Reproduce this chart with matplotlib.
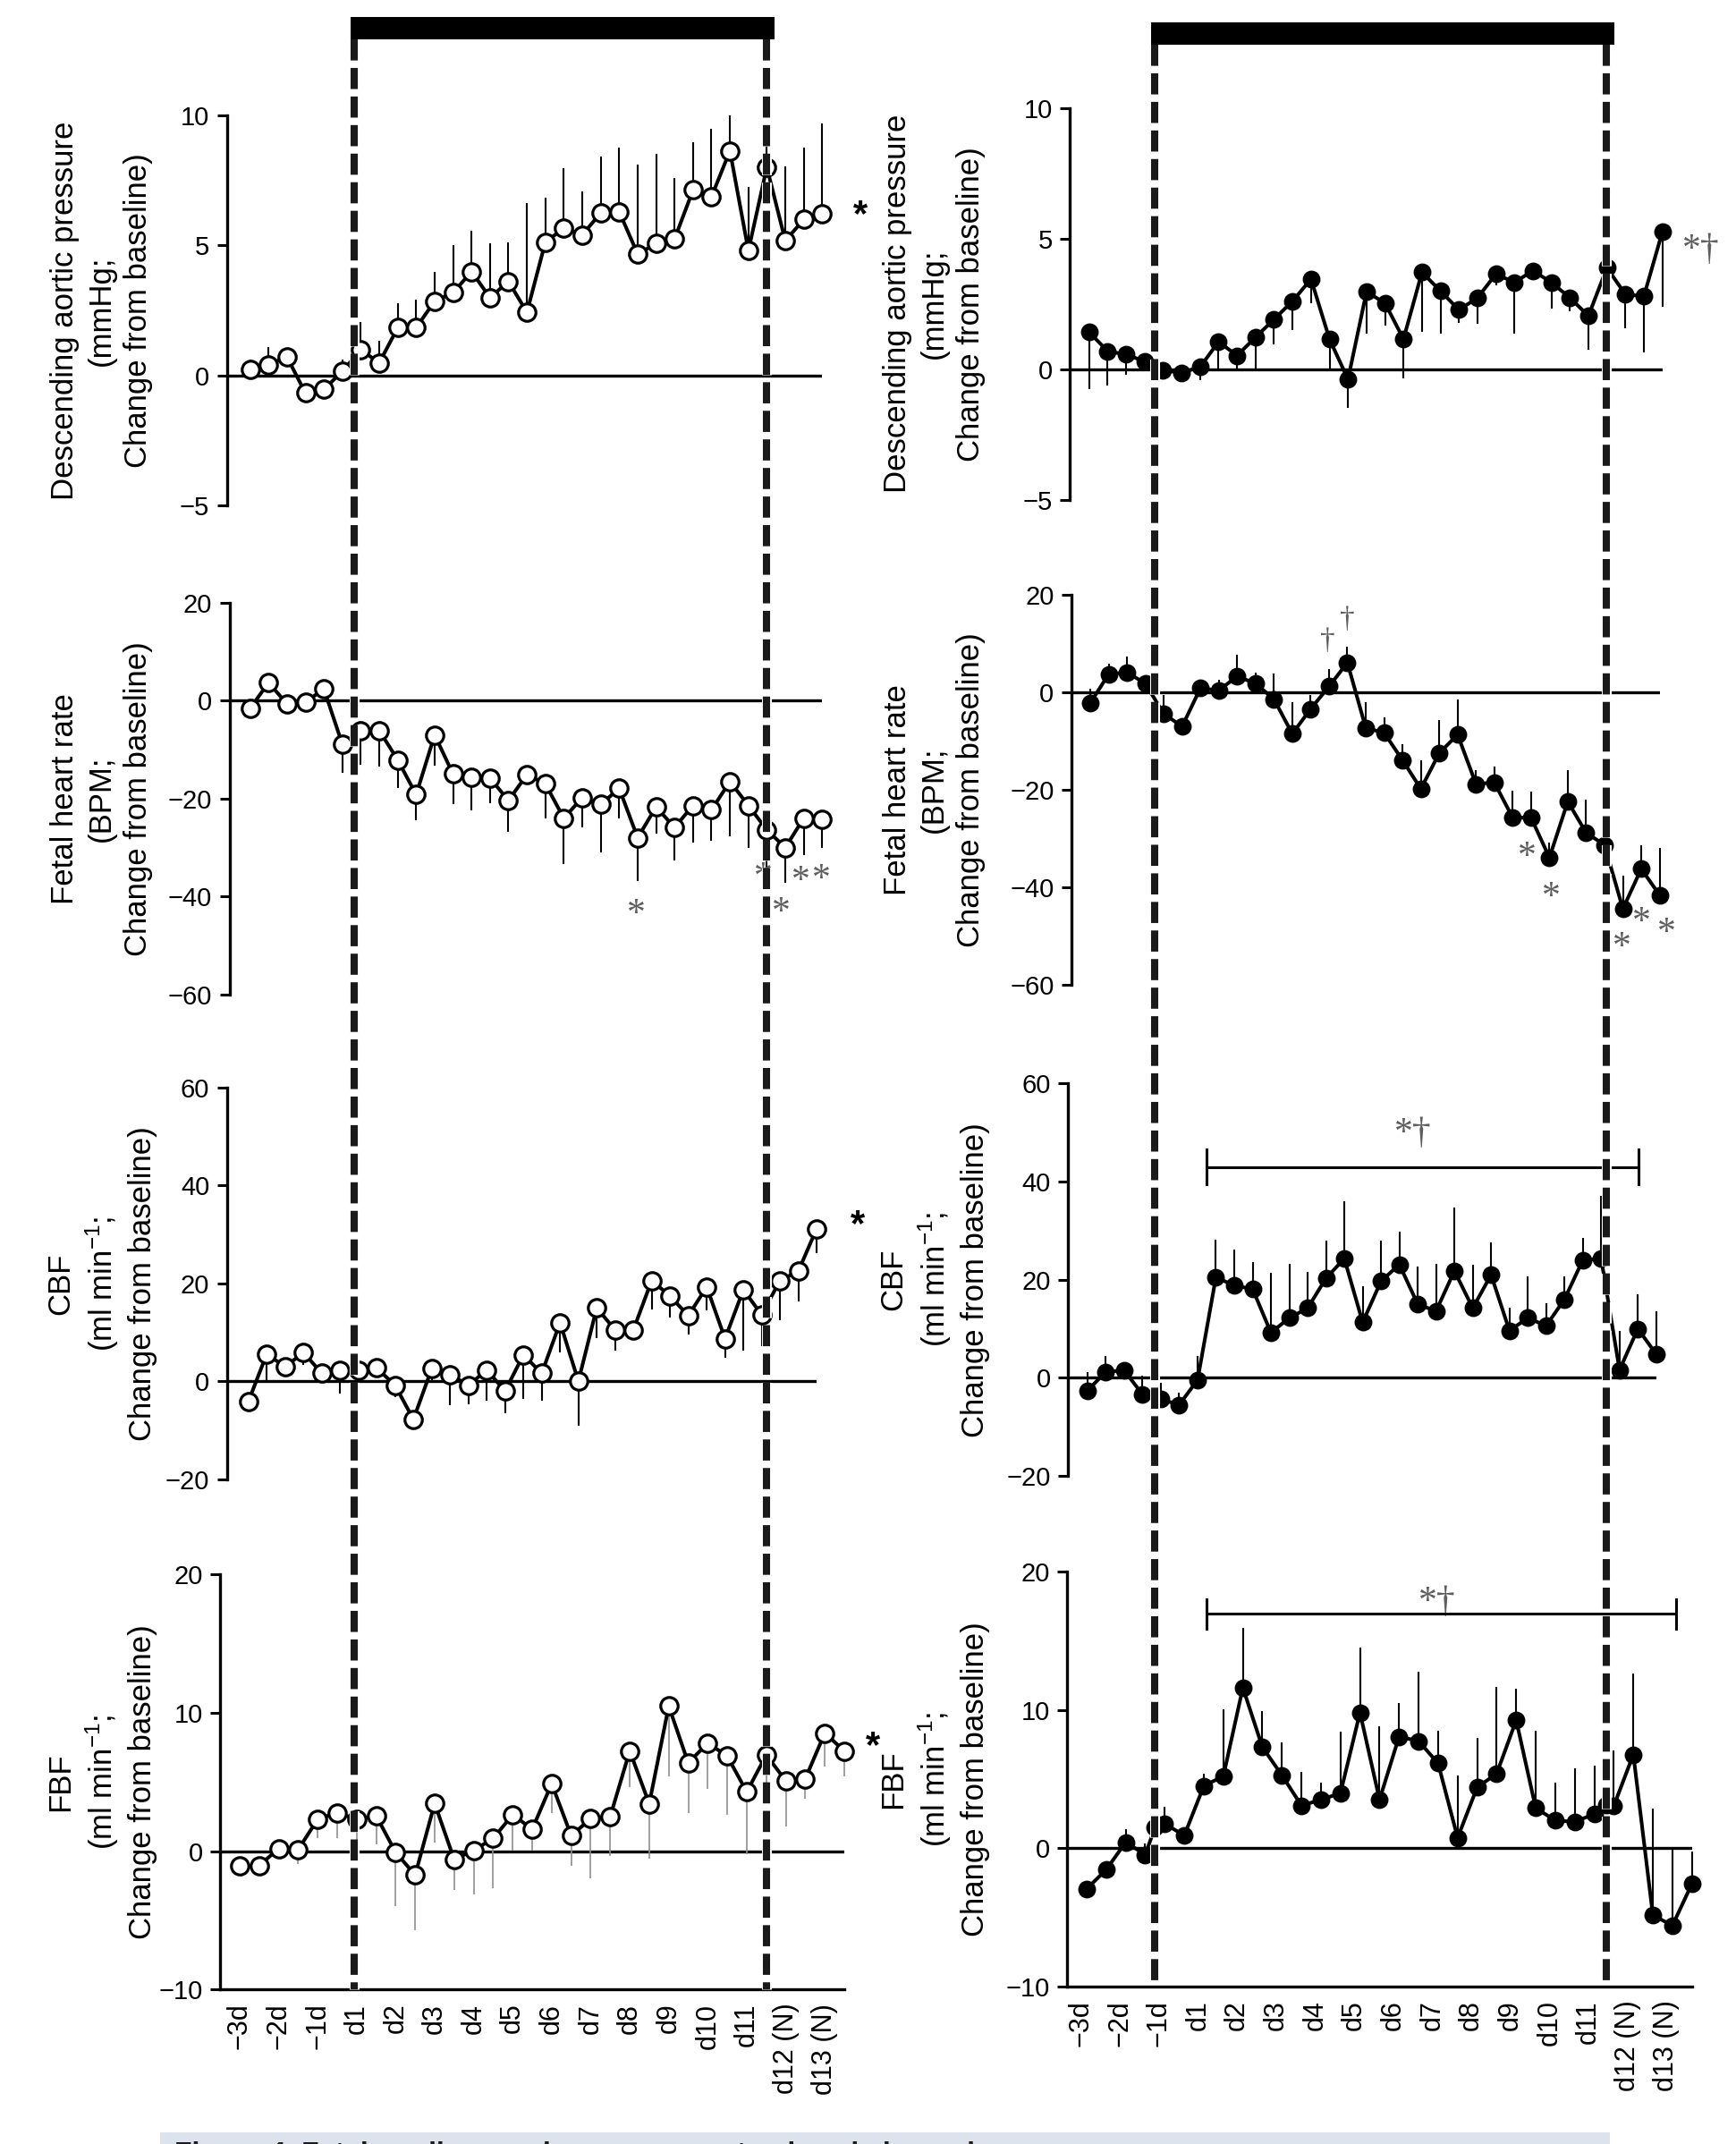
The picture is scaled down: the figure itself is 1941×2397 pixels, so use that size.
import matplotlib.pyplot as plt
import matplotlib.patheffects as pe
from matplotlib import font_manager
from matplotlib.lines import Line2D
from matplotlib.patches import Rectangle

W, H, DPI = 1941, 2397, 100

installed = {f.name for f in font_manager.fontManager.ttflist}
TICK_FONT = 'Liberation Sans Narrow' if 'Liberation Sans Narrow' in installed else 'Liberation Sans'

plt.rcParams['font.family'] = ['Liberation Sans', 'DejaVu Sans']
plt.rcParams['mathtext.fontset'] = 'custom'
plt.rcParams['mathtext.rm'] = 'Liberation Sans'
plt.rcParams['mathtext.it'] = 'Liberation Sans:italic'
plt.rcParams['lines.scale_dashes'] = False

# ---- data -------------------------------------------------------------
# two samples per day, -3d ... d13 (N)
x_idx = list(range(32))
day_ticks = list(range(0, 32, 2))
day_labels = ['\u22123d', '\u22122d', '\u22121d', 'd1', 'd2', 'd3', 'd4', 'd5',
              'd6', 'd7', 'd8', 'd9', 'd10', 'd11', 'd12 (N)', 'd13 (N)']
# right FBF has extra samples at start and end of hypoxia
x_fbf_r = [0, 1, 2, 3, 3.5] + list(range(4, 27)) + [26.6] + list(range(27, 32))

# hypoxia start / end (in units of the bottom panel of each column)
hypoxia_l = (5.88, 27.0)
hypoxia_r = (3.5, 26.6)

map_l = [0.22, 0.42, 0.71, -0.67, -0.53, 0.16, 0.99, 0.49, 1.84, 1.84, 2.86, 3.18, 4.0, 2.99, 3.62, 2.43,
         5.13, 5.66, 5.41, 6.25, 6.30, 4.67, 5.07, 5.25, 7.13, 6.87, 8.64, 4.80, 8.01, 5.18, 6.0, 6.21]
map_l_err = [0.40, 0.66, 0.04, 0.0, 0.0, 0.46, 1.08, 0.85, 0.95, 1.08, 1.11, 1.85, 1.58, 2.10, 1.50, 4.21,
             1.70, 2.30, 1.66, 2.17, 2.45, 3.45, 3.44, 2.34, 1.84, 2.62, 1.36, 2.44, 1.29, 2.87, 2.75, 3.49]

fhr_l = [-1.6, 3.7, -0.65, -0.3, 2.4, -8.9, -6.1, -6.1, -12.1, -19.2, -7.0, -15.0, -15.7, -15.8, -20.4, -15.1,
         -17.0, -24.0, -19.8, -21.2, -17.9, -28.0, -21.7, -25.9, -21.4, -22.3, -16.5, -21.4, -26.4, -30.0, -24.0, -24.3]
fhr_l_err = [1.3, 1.5, 0.5, 0.5, 1.0, 5.8, 7.0, 7.3, 5.8, 5.3, 6.2, 6.1, 6.7, 5.1, 6.3, 0.9,
             7.1, 9.3, 6.1, 9.8, 6.2, 8.9, 5.4, 6.7, 7.6, 6.4, 11.2, 8.6, 10.8, 7.2, 7.6, 5.7]

cbf_l = [-4.1, 5.6, 2.9, 5.9, 1.6, 2.2, 2.2, 2.7, -0.85, -7.8, 2.6, 1.4, -0.85, 2.3, -2.0, 5.4,
         1.6, 12.0, 0.0, 15.0, 10.5, 10.5, 20.6, 17.4, 13.4, 19.3, 8.7, 18.7, 13.6, 20.6, 22.5, 31.2]
cbf_l_err = [1.0, 5.6, 0.9, 2.6, 1.0, 4.8, 1.2, 1.7, 2.4, 0.7, 2.6, 6.3, 3.8, 6.2, 4.5, 9.0,
             5.5, 6.1, 9.1, 6.1, 4.2, 1.7, 5.9, 4.3, 3.8, 4.9, 3.9, 12.5, 6.4, 8.2, 6.2, 5.1]

fbf_l = [-1.09, -1.03, 0.17, 0.11, 2.30, 2.78, 2.30, 2.56, -0.09, -1.72, 3.45, -0.6, 0.06, 0.92, 2.64, 1.58,
         4.88, 1.12, 2.35, 2.50, 7.24, 3.42, 10.48, 6.37, 7.81, 6.86, 4.28, 6.95, 5.08, 5.23, 8.53, 7.24]
fbf_l_err = [0.3, 0.3, 0.3, 1.06, 1.38, 1.86, 1.52, 2.07, 3.87, 3.96, 2.82, 2.21, 3.16, 3.59, 2.58, 1.52,
             2.10, 2.21, 4.30, 2.87, 2.59, 3.94, 5.11, 3.59, 3.30, 4.22, 4.51, 2.87, 3.30, 1.44, 2.44, 1.87]

map_r = [1.42, 0.69, 0.56, 0.30, -0.05, -0.13, 0.08, 1.05, 0.52, 1.22, 1.91, 2.60, 3.45, 1.15, -0.39, 2.96,
         2.53, 1.15, 3.71, 2.99, 2.27, 2.73, 3.64, 3.32, 3.77, 3.32, 2.73, 2.04, 3.88, 2.86, 2.79, 5.26]
map_r_err = [2.17, 1.31, 0.78, 0.30, 0.24, 0.22, 0.50, 1.01, 0.61, 1.22, 0.95, 1.12, 0.92, 1.15, 1.08, 1.61,
             0.85, 1.50, 2.29, 1.64, 0.49, 0.99, 0.44, 1.97, 0.32, 0.99, 0.53, 1.28, 0.63, 1.31, 2.16, 2.86]

fhr_r = [-2.2, 3.7, 4.1, 1.8, -4.4, -7.0, 0.85, 0.4, 3.3, 1.8, -1.4, -8.5, -3.4, 1.2, 6.1, -7.3,
         -8.3, -13.9, -19.8, -12.5, -8.65, -18.8, -18.5, -25.7, -25.7, -33.9, -22.4, -28.8, -31.3, -44.4, -36.2, -41.6]
fhr_r_err = [2.85, 2.1, 3.3, 1.35, 3.94, 1.3, 0.85, 2.1, 4.4, 2.3, 5.2, 6.4, 2.94, 3.6, 3.3, 5.2,
             3.25, 3.2, 5.9, 6.8, 7.25, 2.9, 3.3, 5.6, 5.3, 3.0, 6.5, 6.7, 2.0, 6.8, 4.9, 9.6]

cbf_r = [-2.6, 1.2, 1.5, -3.4, -4.4, -5.5, -0.46, 20.5, 18.8, 18.1, 9.2, 12.2, 14.2, 20.3, 24.3, 11.3,
         19.7, 23.1, 15.0, 13.6, 21.8, 14.2, 21.0, 9.6, 12.2, 10.6, 16.0, 24.0, 24.3, 1.6, 10.0, 4.8]
cbf_r_err = [3.8, 3.2, 1.0, 3.9, 3.3, 2.4, 4.9, 7.7, 7.4, 5.5, 12.2, 11.1, 7.4, 7.6, 11.7, 7.3,
             8.2, 6.7, 7.7, 9.7, 12.9, 8.8, 6.6, 4.6, 8.5, 4.6, 4.7, 4.5, 12.7, 8.0, 7.1, 8.8]

fbf_r = [-2.95, -1.55, 0.43, -0.47, 1.5, 1.76, 0.92, 4.5, 5.2, 11.6, 7.3, 5.27, 3.08, 3.5, 3.98, 9.8, 3.5,
         8.06, 7.74, 6.13, 0.75, 4.4, 5.38, 9.25, 2.9, 2.0, 1.9, 2.47, 3.1, 3.05, 6.77, -4.84, -5.6, -2.58]
fbf_r_err = [0.3, 0.3, 0.92, 0.8, 0.3, 1.25, 0.3, 0.88, 4.86, 4.3, 2.6, 2.36, 2.4, 1.23, 4.41, 4.7, 5.32,
             2.44, 5.0, 2.37, 4.52, 3.6, 6.28, 2.25, 5.6, 2.73, 3.9, 3.51, 0.3, 4.0, 5.85, 7.68, 5.6, 2.32]

lab_map = 'Descending aortic pressure\n(mmHg;\nChange from baseline)'
lab_fhr = 'Fetal heart rate\n(BPM;\nChange from baseline)'
lab_cbf = 'CBF\n(ml min$^{-1}$;\nChange from baseline)'
lab_fbf = 'FBF\n(ml min$^{-1}$;\nChange from baseline)'

# significance marks: (x, y, text, style)
notes = {
    'map_l': [(33.06, 6.6, '*', 'bold')],
    'fhr_l': [(20.93, -41.7, '*', 'gray'), (27.83, -34.2, '*', 'gray'), (28.79, -41.4, '*', 'gray'),
              (29.84, -34.9, '*', 'gray'), (30.97, -34.6, '*', 'gray')],
    'cbf_l': [(33.24, 34.3, '*', 'bold')],
    'fbf_l': [(32.47, 8.4, '*', 'bold')],
    'map_r': [(33.1, 4.95, '*\u2020', 'gray')],
    'fhr_r': [(12.9, 10.7, '\u2020', 'dagger'), (13.99, 15.1, '\u2020', 'dagger'),
              (23.76, -31.9, '*', 'gray'), (25.1, -40.1, '*', 'gray'), (28.95, -50.3, '*', 'gray'),
              (30.0, -45.3, '*', 'gray'), (31.36, -47.4, '*', 'gray')],
    'cbf_r': [(17.75, 51.7, '*\u2020', 'gray')],
    'fbf_r': [(17.96, 18.5, '*\u2020', 'gray')],
}
# horizontal brackets: (x start, x end, y, half cap height)
brackets = {'cbf_r': (6.49, 30.04, 43.0, 3.6), 'fbf_r': (6.14, 30.19, 16.95, 1.07)}

# ---- layout (pixels): spine x, first sample x, last sample x, top, bottom
frames = {
    'map_l': (253.6, 279.6, 919.3, 129.0, 565.3),
    'fhr_l': (256.7, 279.6, 919.3, 673.9, 1111.8),
    'cbf_l': (253.6, 277.8, 913.1, 1216.1, 1653.6),
    'fbf_l': (246.2, 267.9, 944.0, 1760.0, 2224.4),
    'map_r': (1196.0, 1217.7, 1858.7, 120.6, 558.8),
    'fhr_r': (1197.9, 1219.0, 1855.6, 665.0, 1101.1),
    'cbf_r': (1194.2, 1215.9, 1851.8, 1211.4, 1650.0),
    'fbf_r': (1193.3, 1215.0, 1891.7, 1756.9, 2220.9),
}

panels = [
    # key, x, y, err, direction, filled, err colour, ylim, yticks, label
    ('map_l', x_idx, map_l, map_l_err, 'up', False, 'black', (-5, 10), [-5, 0, 5, 10], lab_map),
    ('fhr_l', x_idx, fhr_l, fhr_l_err, 'down', False, 'black', (-60, 20), [-60, -40, -20, 0, 20], lab_fhr),
    ('cbf_l', x_idx, cbf_l, cbf_l_err, 'down', False, 'black', (-20, 60), [-20, 0, 20, 40, 60], lab_cbf),
    ('fbf_l', x_idx, fbf_l, fbf_l_err, 'down', False, '#8f8f8f', (-10, 20), [-10, 0, 10, 20], lab_fbf),
    ('map_r', x_idx, map_r, map_r_err, 'down', True, 'black', (-5, 10), [-5, 0, 5, 10], lab_map),
    ('fhr_r', x_idx, fhr_r, fhr_r_err, 'up', True, 'black', (-60, 20), [-60, -40, -20, 0, 20], lab_fhr),
    ('cbf_r', x_idx, cbf_r, cbf_r_err, 'up', True, 'black', (-20, 60), [-20, 0, 20, 40, 60], lab_cbf),
    ('fbf_r', x_fbf_r, fbf_r, fbf_r_err, 'up', True, 'black', (-10, 20), [-10, 0, 10, 20], lab_fbf),
]

label_x = {'l': 113.5, 'r': 1044.3}
tick_shift = {'l': 0.0, 'r': -0.3}

note_style = {
    'bold': dict(color='black', fontweight='bold', fontsize=30, family=['Liberation Sans', 'DejaVu Sans'], dy=-0.22),
    'gray': dict(color='#5e5e5e', fontsize=30, family=['Liberation Serif', 'DejaVu Serif'], dy=-0.16),
    'dagger': dict(color='#5e5e5e', fontsize=24, family=['Liberation Serif', 'DejaVu Serif'], dy=0.08),
}

fig = plt.figure(figsize=(W / DPI, H / DPI), dpi=DPI)
axes = {}

for key, xs, ys, err, direction, filled, ecol, ylim, yticks, label in panels:
    left, p0, p31, top, bottom = frames[key]
    col = key[-1]
    ax = fig.add_axes([left / W, 1 - bottom / H, (p31 - left) / W, (bottom - top) / H])
    axes[key] = ax
    step = (p31 - p0) / 31
    ax.set_xlim(-(p0 - left) / step, 31)
    ax.set_ylim(*ylim)
    ax.set_facecolor('none')

    zeros = [0] * len(err)
    yerr = [zeros, err] if direction == 'up' else [err, zeros]
    ax.errorbar(xs, ys, yerr=yerr, fmt='none', ecolor=ecol,
                elinewidth=1.2 if ecol != 'black' else 1.5, capsize=0, zorder=2, clip_on=False)
    ax.axhline(0, color='black', lw=2.4, zorder=1)
    ax.plot(xs, ys, '-', color='black', lw=2.9, marker='o',
            ms=12 if filled else 14, mfc='black' if filled else 'white',
            mec='black', mew=2.3, zorder=3, clip_on=False)

    for s in ('top', 'right'):
        ax.spines[s].set_visible(False)
    ax.spines['left'].set_linewidth(2.4)
    ax.set_yticks(yticks)
    ax.tick_params(axis='y', length=8, width=2.2, pad=6, labelsize=21, direction='out')
    for t in ax.get_yticklabels():
        t.set_fontfamily(TICK_FONT)

    if key.startswith('fbf'):
        ax.spines['bottom'].set_linewidth(2.4)
        ax.set_xticks([t + tick_shift[col] for t in day_ticks])
        ax.set_xticklabels(day_labels, rotation=90)
        ax.tick_params(axis='x', length=0, pad=11, labelsize=22)
    else:
        ax.spines['bottom'].set_visible(False)
        ax.set_xticks([])

    yc = 1 - (top + bottom) / 2 / H
    fig.text(label_x[col] / W, yc, label, rotation=90, ha='center', va='center',
             multialignment='center', fontsize=25, linespacing=1.3)

    for xv, yv, txt, style in notes.get(key, []):
        st = dict(note_style[style])
        dy = st.pop('dy') * st['fontsize']
        ax.annotate(txt, (xv, yv), xytext=(0, dy), textcoords='offset points',
                    ha='center', va='center_baseline', annotation_clip=False, **st)

    if key in brackets:
        x0, x1, yb, cap = brackets[key]
        ax.plot([x0, x1], [yb, yb], color='black', lw=2.2, clip_on=False, zorder=4)
        for xe in (x0, x1):
            ax.plot([xe, xe], [yb - cap, yb + cap], color='black', lw=2.2, clip_on=False, zorder=4)

# hypoxia period: black bar on top, dashed lines through all panels
for ax_b, period, bar_top, bar_bot in ((axes['fbf_l'], hypoxia_l, 19, 44), (axes['fbf_r'], hypoxia_r, 25, 50)):
    xs_px = [ax_b.transData.transform((v, 0))[0] for v in period]
    y_end = ax_b.get_position().y0
    for xp in xs_px:
        ln = Line2D([xp / W, xp / W], [1 - bar_bot / H, y_end], transform=fig.transFigure,
                    color='#1a1a1a', lw=5.8, dashes=(17, 6))
        ln.set_dash_capstyle('butt')
        ln.set_path_effects([pe.Stroke(linewidth=8, foreground='white'), pe.Normal()])
        fig.add_artist(ln)
    fig.add_artist(Rectangle(((xs_px[0] - 4) / W, 1 - bar_bot / H), (xs_px[1] - xs_px[0] + 13) / W,
                             (bar_bot - bar_top) / H, transform=fig.transFigure, color='black', lw=0))

# caption strip cut by the bottom edge
fig.add_artist(Rectangle((179 / W, 0), (1800 - 179) / W, (H - 2384) / H,
                         transform=fig.transFigure, color='#dce3ec', lw=0))
fig.text(195 / W, 1 - 2417 / H, 'Figure 4. Fetal cardiovascular responses to chronic hypoxia',
         fontsize=23, fontweight='bold', color='#1a1a1a', ha='left', va='baseline')

fig.savefig('out.png', dpi=DPI)
